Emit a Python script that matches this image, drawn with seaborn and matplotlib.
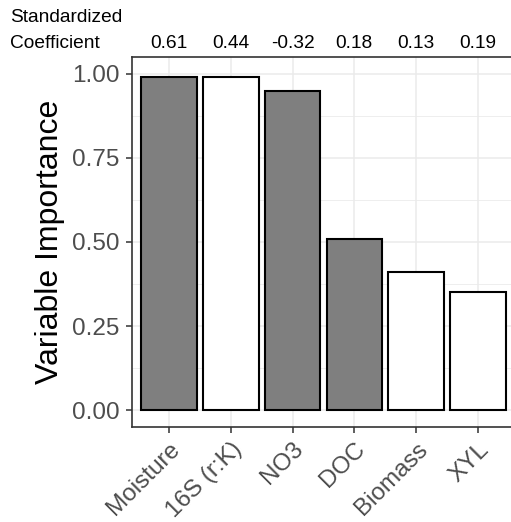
import matplotlib
matplotlib.use("Agg")
import matplotlib.pyplot as plt
import seaborn as sns
import pandas as pd
import numpy as np

# Variables ranked by importance, with their standardized coefficients
variables = ["Moisture", "16S (r:K)", "NO3", "DOC", "Biomass", "XYL"]
importance = [0.99, 0.99, 0.95, 0.51, 0.41, 0.35]
coefficients = ["0.61", "0.44", "-0.32", "0.18", "0.13", "0.19"]
group = ["abiotic", "biotic", "abiotic", "abiotic", "biotic", "biotic"]
y_ticks = [0.00, 0.25, 0.50, 0.75, 1.00]

df = pd.DataFrame({"variable": variables, "importance": importance, "group": group})

sns.set_theme(style="white")
plt.rcParams["font.family"] = ["Liberation Sans", "DejaVu Sans"]

fig = plt.figure(figsize=(5.11, 5.22), dpi=100)
ax = fig.add_axes([0.258, 0.182, 0.750, 0.709])

# grid (theme_bw style): major + minor horizontal, major vertical
for y in np.arange(0, 1.01, 0.125):
    ax.axhline(y, color="#ebebeb", lw=1.1 if y in y_ticks else 0.6, zorder=0)
for i in range(len(variables)):
    ax.axvline(i, color="#ebebeb", lw=1.1, zorder=0)

sns.barplot(data=df, x="variable", y="importance", hue="group",
            palette={"abiotic": "#7f7f7f", "biotic": "#ffffff"},
            dodge=False, width=0.9, edgecolor="black", linewidth=1.5,
            legend=False, ax=ax, zorder=2)

ax.set_xlim(-0.6, len(variables) - 0.4)
ax.set_ylim(-0.05, 1.05)
ax.set_yticks(y_ticks)
ax.set_yticklabels([f"{v:.2f}" for v in y_ticks])
ax.set_xlabel("")
ax.set_ylabel("Variable Importance", fontsize=23, color="black", labelpad=5)

ax.tick_params(axis="both", which="major", length=4, width=1.1, color="#333333",
               labelcolor="#4d4d4d", labelsize=17.5, left=True, bottom=True)
ax.tick_params(axis="y", pad=5)
ax.tick_params(axis="x", pad=4)
plt.setp(ax.get_xticklabels(), rotation=45, ha="right", rotation_mode="anchor")

for s in ax.spines.values():
    s.set_color("#333333")
    s.set_linewidth(1.2)

# coefficient labels above each bar
label_y = 1 - 43 / 522
for i, c in enumerate(coefficients):
    x_fig = fig.transFigure.inverted().transform(ax.transData.transform((i, 0)))[0]
    fig.text(x_fig, label_y, c, ha="center", va="center", fontsize=13.8, color="black")
fig.text(0.02, 1 - 17 / 522, "Standardized", ha="left", va="center",
         fontsize=13.8, color="black")
fig.text(0.02, label_y, "Coefficient", ha="left", va="center",
         fontsize=13.8, color="black")

fig.savefig("out.png", dpi=100)
